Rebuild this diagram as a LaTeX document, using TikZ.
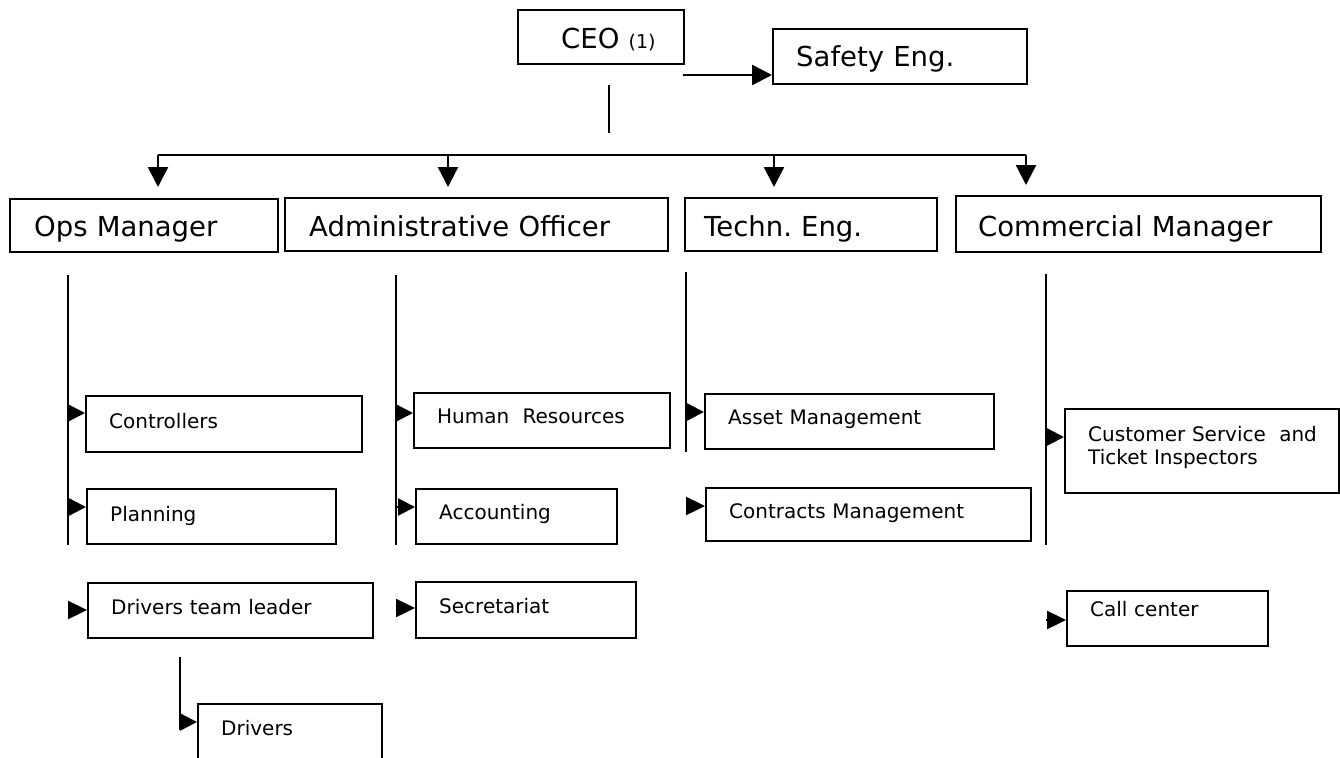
\documentclass[tikz,border=0pt]{standalone}
\usepackage{fontspec}
\setmainfont{DejaVu Sans}
\usetikzlibrary{arrows.meta}
\begin{document}
\frenchspacing
\begin{tikzpicture}[x=1pt,y=-1pt,
  bx/.style={draw, line width=2.4pt, anchor=north west, inner ysep=0pt, align=left},
  big/.style={bx, font=\fontsize{27.5}{33}\selectfont\frenchspacing},
  sml/.style={bx, font=\fontsize{20}{23}\selectfont\frenchspacing, inner xsep=23pt},
  ln/.style={line width=2.4pt},
  arr/.style={ln, -{Triangle[length=20pt,width=20pt]}},
  sarr/.style={ln, -{Triangle[length=17pt,width=17pt]}},
  harr/.style={ln, -{Triangle[length=19pt,width=18pt]}}]
\useasboundingbox (0,0) rectangle (1340,757);
\fill[white] (0,0) rectangle (1340,757);

% top level
\node[big, inner xsep=43pt, text width=80pt, text height=38pt, text depth=16pt] (ceo) at (517,9) {\mbox{CEO {\fontsize{19}{22}\selectfont(1)}}};
\node[big, inner xsep=23pt, text width=208pt, text height=37pt, text depth=18pt] (safety) at (772,28) {Safety Eng.};

% managers
\node[big, inner xsep=24pt, text width=220pt, text height=37pt, text depth=16pt] (ops) at (9,198) {Ops Manager};
\node[big, inner xsep=24pt, text width=335pt, text height=38pt, text depth=15pt] (adm) at (284,197) {Administrative Officer};
\node[big, inner xsep=19pt, text width=214pt, text height=38pt, text depth=15pt] (tec) at (684,197) {Techn. Eng.};
\node[big, inner xsep=22pt, text width=321pt, text height=40pt, text depth=16pt] (com) at (955,195) {Commercial Manager};

% ops children
\node[sml, text width=230pt, text height=32pt, text depth=24pt] (ctl) at (85,395) {Controllers};
\node[sml, text width=203pt, text height=32pt, text depth=23pt] (pln) at (86,488) {Planning};
\node[sml, text width=239pt, text height=31pt, text depth=24pt] (dtl) at (87,582) {Drivers team leader};
\node[sml, text width=138pt, text height=31pt, text depth=45pt] (drv) at (197,703) {Drivers};

% admin children
\node[sml, text width=210pt, text height=30pt, text depth=25pt] (hr) at (413,392) {Human\ \ Resources};
\node[sml, text width=155pt, text height=30pt, text depth=25pt] (acc) at (415,488) {Accounting};
\node[sml, text width=174pt, text height=31pt, text depth=25pt] (sec) at (415,581) {Secretariat};

% techn children
\node[sml, text width=243pt, text height=30pt, text depth=25pt] (ast) at (704,393) {Asset Management};
\node[sml, text width=279pt, text height=30pt, text depth=23pt] (ctr) at (705,487) {Contracts Management};

% commercial children
\node[sml, text width=228pt, text height=32pt, text depth=52pt] (cus) at (1064,408) {\mbox{Customer Service\ \ and}\\Ticket Inspectors};
\node[sml, text width=155pt, text height=25pt, text depth=30pt] (cal) at (1066,590) {Call center};

% coordinates
\coordinate (c1) at (609,85);
\coordinate (c2) at (609,133);
\coordinate (sa) at (683,75);
\coordinate (b1) at (158,155);
\coordinate (b2) at (448,155);
\coordinate (b3) at (774,155);
\coordinate (b4) at (1026,155);
\coordinate (o1) at (68,275);
\coordinate (o2) at (68,545);
\coordinate (a1) at (396,275);
\coordinate (a2) at (396,545);
\coordinate (t1) at (686,272);
\coordinate (t2) at (686,452);
\coordinate (m1) at (1046,274);
\coordinate (m2) at (1046,545);
\coordinate (d1) at (180,657);
\coordinate (d2) at (180,730);

% CEO links
\draw[ln] (c1) -- (c2);
\draw[arr] (sa) -- (sa -| safety.west);
\draw[ln] (b1) -- (b4);
\draw[arr, shorten >=11pt] (b1) -- (b1 |- ops.north);
\draw[arr, shorten >=10pt] (b2) -- (b2 |- adm.north);
\draw[arr, shorten >=10pt] (b3) -- (b3 |- tec.north);
\draw[arr, shorten >=10pt] (b4) -- (b4 |- com.north);

% ops
\draw[ln] (o1) -- (o2);
\draw[sarr] (o1 |- 0,413) -- (ctl.west |- 0,413);
\draw[sarr] (o1 |- 0,507) -- (pln.west |- 0,507);
\draw[harr] (o1 |- 0,610) -- (dtl.west |- 0,610);
\draw[ln] (d1) -- (d2);
\draw[sarr] (d1 |- 0,722) -- (drv.west |- 0,722);

% admin
\draw[ln] (a1) -- (a2);
\draw[sarr] (a1 |- 0,413) -- (hr.west |- 0,413);
\draw[sarr] (a1 |- 0,507) -- (acc.west |- 0,507);
\draw[harr] (a1 |- 0,608) -- (sec.west |- 0,608);

% techn
\draw[ln] (t1) -- (t2);
\draw[sarr] (t1 |- 0,412) -- (ast.west |- 0,412);
\draw[harr] (t1 |- 0,506) -- (ctr.west |- 0,506);

% commercial
\draw[ln] (m1) -- (m2);
\draw[sarr] (m1 |- 0,437) -- (cus.west |- 0,437);
\draw[harr] (m1 |- 0,620) -- (cal.west |- 0,620);
\end{tikzpicture}
\end{document}
